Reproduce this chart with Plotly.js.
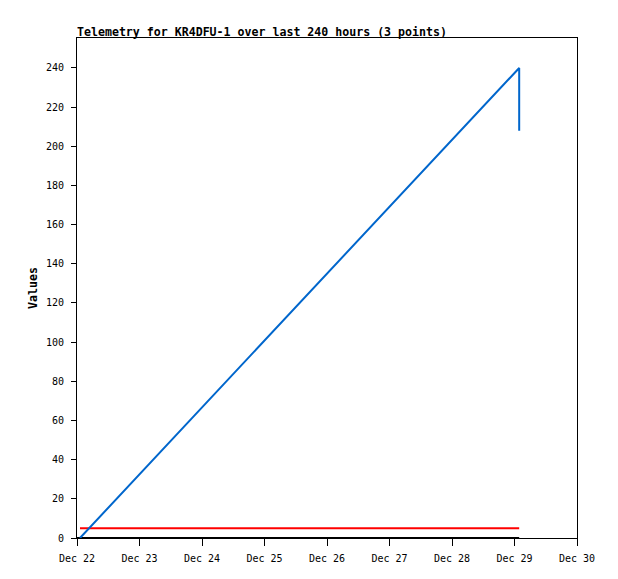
<!DOCTYPE html>
<html>
<head>
<meta charset="utf-8">
<script src="https://cdn.plot.ly/plotly-3.0.1.min.js"></script>
<style>html,body{margin:0;padding:0;background:#fff;}#chart{width:618px;height:579px;}</style>
</head>
<body>
<div id="chart"></div>
<script>
const titleText = 'Telemetry for KR4DFU-1 over last 240 hours (3 points)';
const yTitle = 'Values';
const seriesTimes = ['2023-12-22 01:09', '2023-12-29 01:48', '2023-12-29 01:48'];
const seriesValues = [0, 240, 208];
const redTimes = ['2023-12-22 01:09', '2023-12-29 01:48'];
const redValues = [5, 5];
const blackTimes = ['2023-12-22 00:00', '2023-12-29 01:48'];
const blackValues = [0, 0];
const xRange = ['2023-12-22 00:00', '2023-12-30 00:00'];
const yRange = [0, 255.3];
const yTicks = [0, 20, 40, 60, 80, 100, 120, 140, 160, 180, 200, 220, 240];

const mono = 'DejaVu Sans Mono, monospace';
const data = [
  {x: blackTimes, y: blackValues, mode: 'lines', line: {color: '#000000', width: 2}, hoverinfo: 'skip'},
  {x: redTimes, y: redValues, mode: 'lines', line: {color: '#ff0000', width: 2}, hoverinfo: 'skip'},
  {x: seriesTimes, y: seriesValues, mode: 'lines', line: {color: '#0066cc', width: 2}, hoverinfo: 'skip'}
];
const layout = {
  width: 618, height: 579,
  margin: {l: 77, r: 41, t: 38, b: 41, pad: 0},
  paper_bgcolor: '#ffffff', plot_bgcolor: '#ffffff',
  showlegend: false,
  title: {text: '<b>' + titleText + '</b>', font: {family: mono, size: 11.6, color: '#000'},
          xref: 'container', x: 77/618, xanchor: 'left', yref: 'container', y: 1 - 31.5/579, yanchor: 'middle'},
  xaxis: {
    type: 'date', range: xRange, dtick: 86400000, tick0: '2023-12-22',
    tickformat: '%b %d', showgrid: false, zeroline: false,
    showline: true, linecolor: '#000', linewidth: 1, mirror: true,
    ticks: 'outside', ticklen: 7, tickcolor: '#000', tickwidth: 1,
    ticklabelstandoff: 4,
    tickfont: {family: mono, size: 10, color: '#000'}
  },
  yaxis: {
    range: yRange, tickvals: yTicks, showgrid: false, zeroline: false,
    showline: true, linecolor: '#000', linewidth: 1, mirror: true,
    ticks: 'outside', ticklen: 5, tickcolor: '#000', tickwidth: 1,
    ticklabelstandoff: 5,
    tickfont: {family: mono, size: 10, color: '#000'},
    title: {text: '<b>' + yTitle + '</b>', font: {family: mono, size: 11.6, color: '#000'}, standoff: 5}
  }
};
Plotly.newPlot('chart', data, layout, {staticPlot: true, displayModeBar: false});
</script>
</body>
</html>
